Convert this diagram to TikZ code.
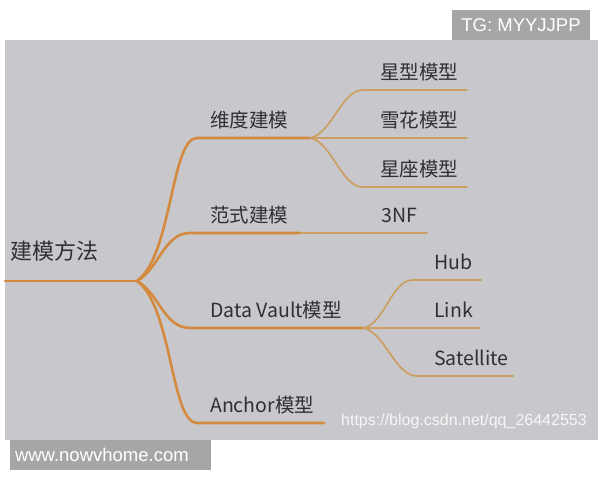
\documentclass[tikz,border=0pt]{standalone}
\usepackage{fontspec}
\setmainfont{Noto Sans CJK SC}
\newfontfamily\tagfont{Liberation Sans}
\usetikzlibrary{positioning}
\definecolor{panelgray}{RGB}{200,200,204}
\definecolor{taggray}{RGB}{166,166,166}
\definecolor{inkgray}{RGB}{48,48,52}
\definecolor{branchbrown}{RGB}{212,138,62}
\definecolor{twigbrown}{RGB}{204,158,98}
\tikzset{%
  branch/.style={draw=branchbrown,line width=2.6pt,line cap=round},
  twig/.style={draw=twigbrown,line width=1.7pt,line cap=round},
  lbl/.style={text=inkgray,font=\fontsize{19.5}{21}\selectfont,inner sep=0pt,anchor=west},
  rootlbl/.style={lbl,font=\fontsize{22}{24}\selectfont},
  tag/.style={fill=taggray,text=white,font=\tagfont\fontsize{18.5}{20}\selectfont,
    minimum height=30pt,inner ysep=0pt},
  srcmark/.style={text=white,opacity=.85,font=\tagfont\fontsize{16}{18}\selectfont,
    inner sep=0pt,anchor=west}
}

\begin{document}
\begin{tikzpicture}[x=1pt,y=-1pt]
  \useasboundingbox (0,0) rectangle (600,480);
  \fill[panelgray] (5,40) rectangle (598,440);

  \node[rootlbl] (root) at (10,251) {建模方法};
  \coordinate (root-a) at (5,281);
  \coordinate (fork) at (137,281);

  % first level
  \node[lbl] (wd) at (210,120) {维度建模};
  \node[lbl] (fs) at (210,215) {范式建模};
  \node[lbl] (dv) at (210,310) {Data Vault模型};
  \node[lbl] (an) at (210,405) {Anchor模型};
  \coordinate (wd-a) at (197,138); \coordinate (wd-b) at (310,138);
  \coordinate (fs-a) at (190,233); \coordinate (fs-b) at (300,233);
  \coordinate (dv-a) at (190,328); \coordinate (dv-b) at (363,328);
  \coordinate (an-a) at (197,423); \coordinate (an-b) at (324,423);

  % second level
  \node[lbl] (xx) at (380,72) {星型模型};
  \node[lbl] (xh) at (380,120) {雪花模型};
  \node[lbl] (xz) at (380,169) {星座模型};
  \node[lbl] (nf) at (381,215) {3NF};
  \node[lbl] (hub) at (434,262) {Hub};
  \node[lbl] (link) at (434,310) {Link};
  \node[lbl] (sat) at (434,358) {Satellite};
  \coordinate (xx-a) at (363,90);  \coordinate (xx-b) at (467,90);
  \coordinate (xh-b) at (467,138);
  \coordinate (xz-a) at (363,187); \coordinate (xz-b) at (467,187);
  \coordinate (nf-b) at (427,233);
  \coordinate (hub-a) at (413,280); \coordinate (hub-b) at (481,280);
  \coordinate (link-b) at (480,328);
  \coordinate (sat-a) at (417,376); \coordinate (sat-b) at (513,376);

  \draw[branch] (root-a) -- (fork);
  \foreach \b/\cx/\cy in {wd/35/-25,fs/22/-12,dv/22/12,an/35/25}
    \draw[branch] (fork) .. controls +(\cx,\cy) and +(-26,0) .. (\b-a) -- (\b-b);

  \draw[twig] (wd-b) .. controls +(22,-4) and +(-22,0) .. (xx-a) -- (xx-b);
  \draw[twig] (wd-b) -- (xh-b);
  \draw[twig] (wd-b) .. controls +(22,4) and +(-22,0) .. (xz-a) -- (xz-b);
  \draw[twig] (fs-b) -- (nf-b);
  \draw[twig] (dv-b) .. controls +(22,-4) and +(-22,0) .. (hub-a) -- (hub-b);
  \draw[twig] (dv-b) -- (link-b);
  \draw[twig] (dv-b) .. controls +(22,4) and +(-22,0) .. (sat-a) -- (sat-b);

  \node[srcmark] (src) at (341,421) {https://blog.csdn.net/qq\_26442553};

  \node[tag,minimum width=138pt] (tg) at (521,25) {TG: MYYJJPP};
  \node[tag,text width=191pt,inner xsep=5pt,align=left] (www) at (110.5,455) {www.nowvhome.com};
\end{tikzpicture}
\end{document}
